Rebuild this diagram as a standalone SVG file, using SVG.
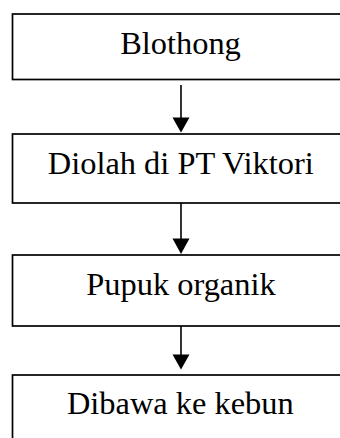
<svg xmlns="http://www.w3.org/2000/svg" width="340" height="438" viewBox="0 0 340 438">
  <defs>
    <style>
      .box { fill: #ffffff; stroke: #000000; stroke-width: 1.7; }
      .label { font-family: "Liberation Serif", "Times New Roman", serif; font-size: 32.4px; fill: #000000; text-anchor: middle; }
      .edge { stroke: #000000; stroke-width: 1.6; fill: none; }
      .head { fill: #000000; stroke: none; }
    </style>
  </defs>
  <rect width="340" height="438" fill="#ffffff"/>

  <g id="node-blothong">
    <rect class="box" x="12.5" y="14" width="340" height="65.5"/>
    <text class="label" x="180.5" y="54">Blothong</text>
  </g>

  <g id="node-diolah">
    <rect class="box" x="12.5" y="134" width="340" height="69"/>
    <text class="label" x="180.8" y="174">Diolah di PT Viktori</text>
  </g>

  <g id="node-pupuk">
    <rect class="box" x="12.5" y="255" width="340" height="71"/>
    <text class="label" x="181" y="295">Pupuk organik</text>
  </g>

  <g id="node-dibawa">
    <rect class="box" x="12.5" y="375" width="340" height="80"/>
    <text class="label" x="180.3" y="414">Dibawa ke kebun</text>
  </g>

  <g id="connectors">
    <line class="edge" x1="181" y1="85" x2="181" y2="119"/>
    <polygon class="head" points="172.5,117.5 189.5,117.5 181,132.5"/>

    <line class="edge" x1="181" y1="203" x2="181" y2="240"/>
    <polygon class="head" points="172.5,238.5 189.5,238.5 181,254"/>

    <line class="edge" x1="181" y1="326" x2="181" y2="356"/>
    <polygon class="head" points="172.5,354.5 189.5,354.5 181,369.5"/>
  </g>
</svg>
